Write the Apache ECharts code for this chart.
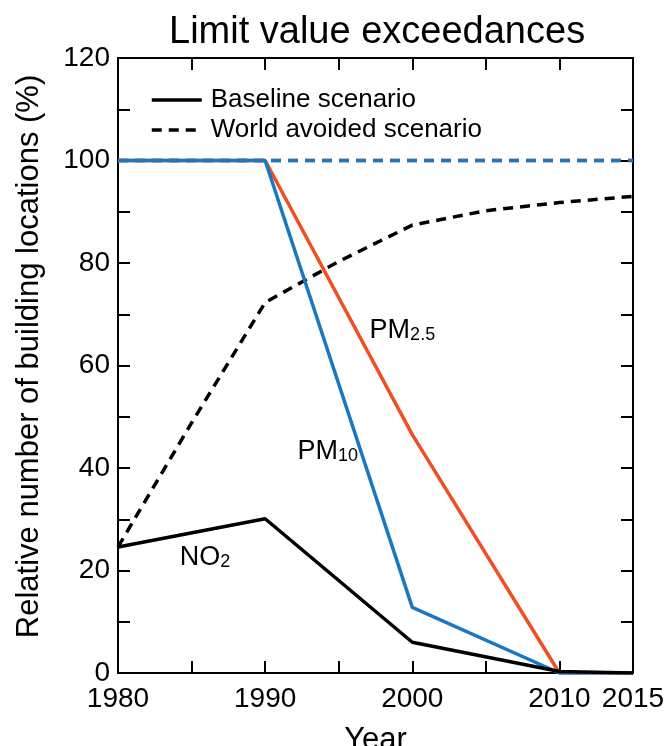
<!DOCTYPE html>
<html>
<head>
<meta charset="utf-8">
<script src="https://cdn.jsdelivr.net/npm/echarts@6/dist/echarts.min.js"></script>
<style>
  html,body{margin:0;padding:0;background:#fff;}
  #chart{width:670px;height:746px;}
</style>
</head>
<body>
<div id="chart"></div>
<script>
// values
var years=[1980,1990,2000,2010,2015];
var no2Base=[24.6,30.1,6.0,0.3,0];
var pm10Base=[100,100,12.8,0,0];
var pm25Base=[100,100,46.5,0,0];
var avoidedYears=[1980,1985,1990,1995,2000,2005,2010,2015];
var no2Avoided=[24.6,48.8,72.3,80.3,87.4,90.2,91.8,93];
var pm10Avoided=[100,100,100,100,100,100,100,100];
var pm25Avoided=[100,100,100,100,100,100,100,100];
var xLabels=[1980,1990,2000,2010,2015];
var yLabels=[0,20,40,60,80,100,120];

var FONT="'Liberation Sans', Arial, Helvetica, sans-serif";
var BLUE='#1a78c2', RED='#f04e23';

function pairs(xs,ys){
  var out=[];
  for(var i=0;i<xs.length;i++) out.push([xs[i],ys[i]]);
  return out;
}
// species label with a subscript, anchored in data coordinates
function tag(main,sub,x,y){
  return {
    coord:[x,y],
    label:{
      show:true,
      position:'right',
      distance:0,
      formatter:'{m|'+main+'}{s|'+sub+'}',
      rich:{
        m:{fontFamily:FONT,fontSize:27,color:'#000',lineHeight:28,verticalAlign:'bottom'},
        s:{fontFamily:FONT,fontSize:18,color:'#000',lineHeight:12,verticalAlign:'bottom'}
      }
    }
  };
}
function line(name,xs,ys,color,dashed,z,marks){
  var s={
    name:name,
    type:'line',
    data:pairs(xs,ys),
    symbol:'none',
    z:z,
    silent:true,
    lineStyle:{color:color,width:3.5,type:dashed?[10,7]:'solid',cap:'butt'},
    itemStyle:{color:color}
  };
  if(marks){
    s.markPoint={symbol:'circle',symbolSize:0,silent:true,data:marks};
  }
  return s;
}

var axisCommon={
  axisLine:{show:true,onZero:false,lineStyle:{color:'#000',width:2}},
  axisTick:{show:true,inside:true,length:12,lineStyle:{color:'#000',width:2}},
  splitLine:{show:false}
};

var myChart=echarts.init(document.getElementById('chart'));
var option={
  backgroundColor:'#fff',
  animation:false,
  title:{
    text:'Limit value exceedances',
    left:164,
    top:9,
    textStyle:{fontFamily:FONT,fontSize:38,fontWeight:'normal',color:'#000'}
  },
  legend:{
    data:['Baseline scenario','World avoided scenario'],
    orient:'vertical',
    left:145,
    top:82,
    itemWidth:50,
    itemHeight:14,
    itemGap:4,
    selectedMode:false,
    itemStyle:{opacity:0},
    lineStyle:{width:3.5},
    textStyle:{fontFamily:FONT,fontSize:26,color:'#000',lineHeight:26,padding:[0,0,0,4]}
  },
  grid:{left:118,right:37,top:58,bottom:73,containLabel:false,outerBoundsMode:'none'}
};
option.xAxis=[
  Object.assign({},axisCommon,{
    type:'value',position:'bottom',min:1980,max:2015,interval:5,
    name:'Year',nameLocation:'middle',nameGap:52,
    nameTextStyle:{fontFamily:FONT,fontSize:31,color:'#000'},
    axisLabel:{
      show:true,margin:12,fontFamily:FONT,fontSize:28,color:'#000',
      formatter:function(v){return xLabels.indexOf(v)>=0?String(v):'';}
    }
  }),
  Object.assign({},axisCommon,{
    type:'value',position:'top',min:1980,max:2015,interval:5,
    axisLabel:{show:false}
  })
];
option.yAxis=[
  Object.assign({},axisCommon,{
    type:'value',position:'left',min:0,max:120,interval:10,
    name:'Relative number of building locations (%)',nameLocation:'middle',nameGap:73,
    nameTextStyle:{fontFamily:FONT,fontSize:31,color:'#000',padding:[0,0,0,18]},
    axisLabel:{
      show:true,margin:8,fontFamily:FONT,fontSize:28,color:'#000',
      formatter:function(v){return yLabels.indexOf(v)>=0?String(v):'';}
    }
  }),
  Object.assign({},axisCommon,{
    type:'value',position:'right',min:0,max:120,interval:10,
    axisLabel:{show:false}
  })
];
option.series=[
  line('PM2.5 world avoided',avoidedYears,pm25Avoided,RED,true,2),
  line('PM10 world avoided',avoidedYears,pm10Avoided,BLUE,true,3),
  line('World avoided scenario',avoidedYears,no2Avoided,'#000',true,4),
  line('PM2.5 baseline',years,pm25Base,RED,false,5,[tag('PM','2.5',1997.1,66.9)]),
  line('PM10 baseline',years,pm10Base,BLUE,false,6,[tag('PM','10',1992.2,43.4)]),
  line('Baseline scenario',years,no2Base,'#000',false,7,[tag('NO','2',1984.2,22.6)])
];
myChart.setOption(option);
</script>
</body>
</html>
